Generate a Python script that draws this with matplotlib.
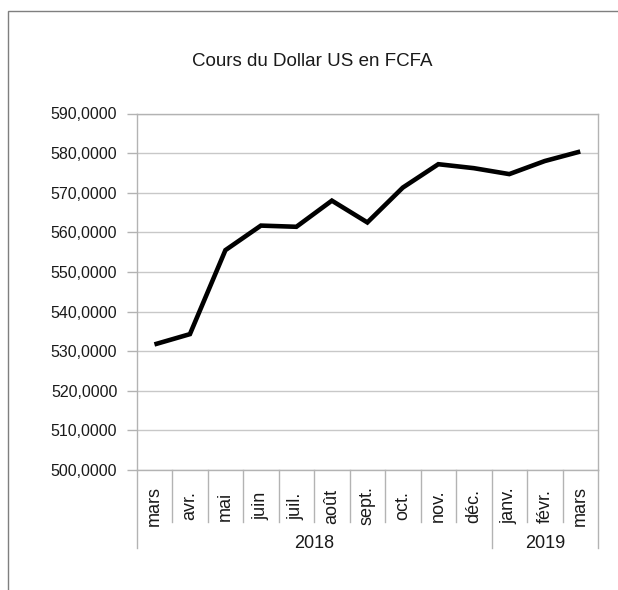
import matplotlib
matplotlib.use("Agg")
import matplotlib.pyplot as plt
from matplotlib.patches import Rectangle

plt.rcParams['font.family'] = ['Liberation Sans', 'DejaVu Sans']

months = ["mars", "avr.", "mai", "juin", "juil.", "août", "sept.", "oct.",
          "nov.", "déc.", "janv.", "févr.", "mars"]
years = ["2018", "2019"]
year_counts = [10, 3]
values = [531.7, 534.3, 555.5, 561.7, 561.4, 568.0, 562.5, 571.3,
          577.2, 576.2, 574.7, 578.0, 580.4]
yticks = [500, 510, 520, 530, 540, 550, 560, 570, 580, 590]
title = "Cours du Dollar US en FCFA"

W, H = 618, 590
fig = plt.figure(figsize=(W / 100, H / 100), dpi=100)

# outer frame (only left/top visible, rest cropped)
fig.patches.append(Rectangle((8 / W, -0.1), 1.2, 1 - 10.5 / H + 0.1,
                             transform=fig.transFigure, fill=False,
                             edgecolor="#7f7f7f", linewidth=1.0))

L, R, T, B = 136.7, 598, 113.5, 470
ax = fig.add_axes([L / W, 1 - B / H, (R - L) / W, (B - T) / H])
axh = B - T

x = list(range(len(months)))
ax.plot(x, values, color="black", linewidth=3.3, solid_joinstyle="miter",
        solid_capstyle="butt", zorder=3)

ax.set_xlim(-0.5, len(months) - 0.5)
ax.set_ylim(500, 590)
ax.set_yticks(yticks)
ax.set_yticklabels([f"{v},0000" for v in yticks], fontsize=11.5, color="#1a1a1a")
ax.tick_params(axis="y", length=7.2, color="#b3b3b3", width=1, pad=6.8)
ax.set_xticks([])
ax.grid(axis="y", color="#c8c8c8", linewidth=1)
ax.set_axisbelow(True)
for s in ax.spines.values():
    s.set_color("#b3b3b3")
    s.set_linewidth(1)

tr = ax.get_xaxis_transform()
# category separators
short = -(522 - B) / axh
long_ = -(548 - B) / axh
bounds = [i - 0.5 for i in range(len(months) + 1)]
group_bounds = [-0.5]
acc = -0.5
for c in year_counts:
    acc += c
    group_bounds.append(acc)
for b in bounds:
    yb = long_ if b in group_bounds else short
    ax.plot([b, b], [0, yb], transform=tr, color="#b3b3b3", linewidth=1,
            clip_on=False)

# month labels
ymon = -(506 - B) / axh
for i, m in enumerate(months):
    ax.text(i, ymon, m, transform=tr, rotation=90, ha="center", va="center",
            fontsize=13, color="#1a1a1a")

# year labels
yyear = -(543 - B) / axh
start = -0.5
for yr, c in zip(years, year_counts):
    ax.text(start + c / 2, yyear, yr, transform=tr, ha="center", va="center",
            fontsize=13, color="#1a1a1a")
    start += c

fig.text(312 / W, 1 - 62 / H, title, ha="center", va="center",
         fontsize=13.5, color="#1a1a1a")

fig.savefig("out.png", dpi=100)
